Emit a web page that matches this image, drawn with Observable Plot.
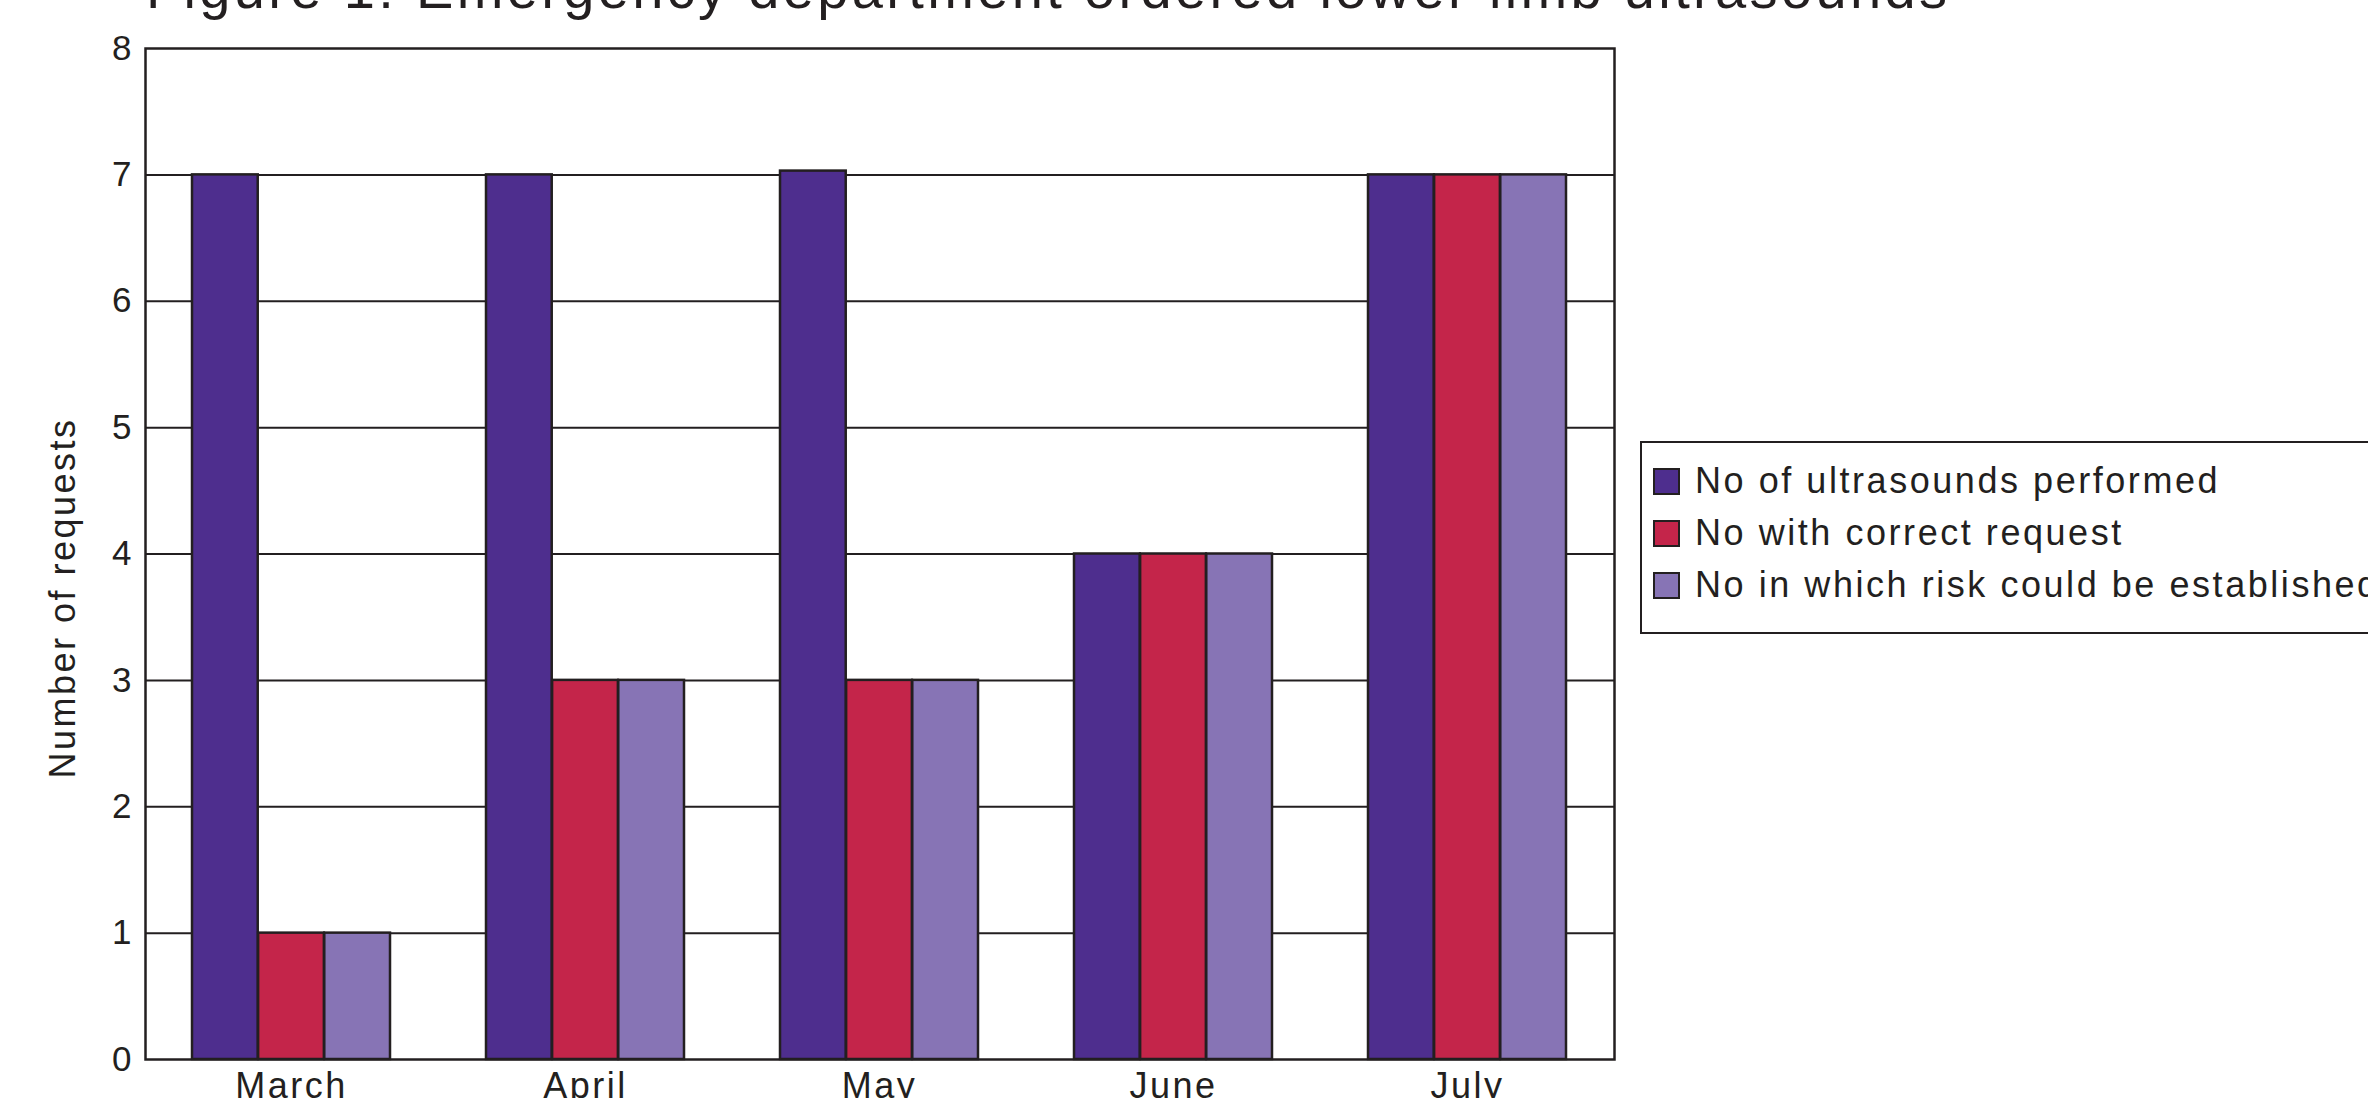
<!DOCTYPE html>
<html>
<head>
<meta charset="utf-8">
<script src="https://cdn.jsdelivr.net/npm/d3@7"></script>
<script src="https://cdn.jsdelivr.net/npm/@observablehq/plot@0.6"></script>
<style>
html,body{margin:0;padding:0;background:#fff;}
body{width:2368px;height:1098px;overflow:hidden;position:relative;font-family:"Liberation Sans",Arial,sans-serif;color:#231f20;}
#title{position:absolute;left:146px;top:-39px;font-size:56px;line-height:56px;letter-spacing:3.35px;white-space:nowrap;z-index:5;}
#chart{position:absolute;left:0;top:0;z-index:1;}
#legend{position:absolute;left:1640px;top:441px;width:800px;height:193px;box-sizing:border-box;border:2px solid #231f20;padding:12px 0 0 11px;background:#fff;z-index:3;}
.row{display:flex;align-items:center;height:52px;}
.sw{width:23px;height:23px;border:2px solid #231f20;margin-right:15px;flex:none;}
.lab{font-size:36px;letter-spacing:2.55px;white-space:nowrap;}
g[aria-label="x-axis tick label"] text{letter-spacing:2.5px;}
g[aria-label="text"] text{letter-spacing:2.5px;}
</style>
</head>
<body>
<div id="title">Figure 1: Emergency department ordered lower limb ultrasounds</div>
<div id="chart"></div>
<div id="legend"></div>
<script>
// ---- data ----
const months = ["March", "April", "May", "June", "July"];
const seriesNames = ["No of ultrasounds performed", "No with correct request", "No in which risk could be established"];
const performed = [7, 7, 7.03, 4, 7];
const correctRequest = [1, 3, 3, 4, 7];
const riskEstablished = [1, 3, 3, 4, 7];
const colors = ["#4e2e8e", "#c4254a", "#8774b5"];
const yTicks = [0, 1, 2, 3, 4, 5, 6, 7, 8];
const yLabel = "Number of requests";

const seriesValues = [performed, correctRequest, riskEstablished];
const table = [];
seriesNames.forEach((s, i) => months.forEach((m, j) => table.push({month: m, series: s, value: seriesValues[i][j]})));

// ---- layout ----
const W = 2368, H = 1098, mL = 145, mR = 754, mT = 48, mB = 39;
const pI = 0.326, pO = 0.158;
const step = (W - mL - mR) / (months.length - pI + 2 * pO);
const bw = step * (1 - pI);
const ink = "#231f20";

const marks = [
  Plot.ruleY(yTicks.filter(d => d > 0 && d < 8), {stroke: ink, strokeWidth: 2, strokeOpacity: 1})
];
seriesNames.forEach((s, i) => {
  marks.push(Plot.barY(table.filter(d => d.series === s), {
    x: "month", y: "value", fill: "series",
    stroke: ink, strokeWidth: 2.5,
    insetLeft: i * bw / 3, insetRight: (2 - i) * bw / 3
  }));
});
marks.push(
  Plot.frame({stroke: ink, strokeWidth: 2.5}),
  Plot.axisY({ticks: yTicks, tickSize: 0, tickPadding: 14, fontSize: 35, label: null}),
  Plot.axisX({tickSize: 0, tickPadding: 13, fontSize: 36, label: null}),
  Plot.text([yLabel], {frameAnchor: "left", text: d => d, rotate: -90, dx: -82, dy: 44, fontSize: 36, lineAnchor: "middle", textAnchor: "middle", fill: ink})
);

const chart = Plot.plot({
  width: W, height: H,
  marginLeft: mL, marginRight: mR, marginTop: mT, marginBottom: mB,
  style: {fontFamily: "Liberation Sans, Arial, sans-serif", color: ink, background: "transparent"},
  x: {domain: months, paddingInner: pI, paddingOuter: pO},
  y: {domain: [0, 8]},
  color: {domain: seriesNames, range: colors},
  marks
});
document.getElementById("chart").appendChild(chart);

// ---- legend ----
const legend = document.getElementById("legend");
seriesNames.forEach((s, i) => {
  const row = document.createElement("div");
  row.className = "row";
  const sw = document.createElement("div");
  sw.className = "sw";
  sw.style.background = colors[i];
  const lab = document.createElement("div");
  lab.className = "lab";
  lab.textContent = s;
  row.appendChild(sw); row.appendChild(lab);
  legend.appendChild(row);
});
</script>
</body>
</html>
